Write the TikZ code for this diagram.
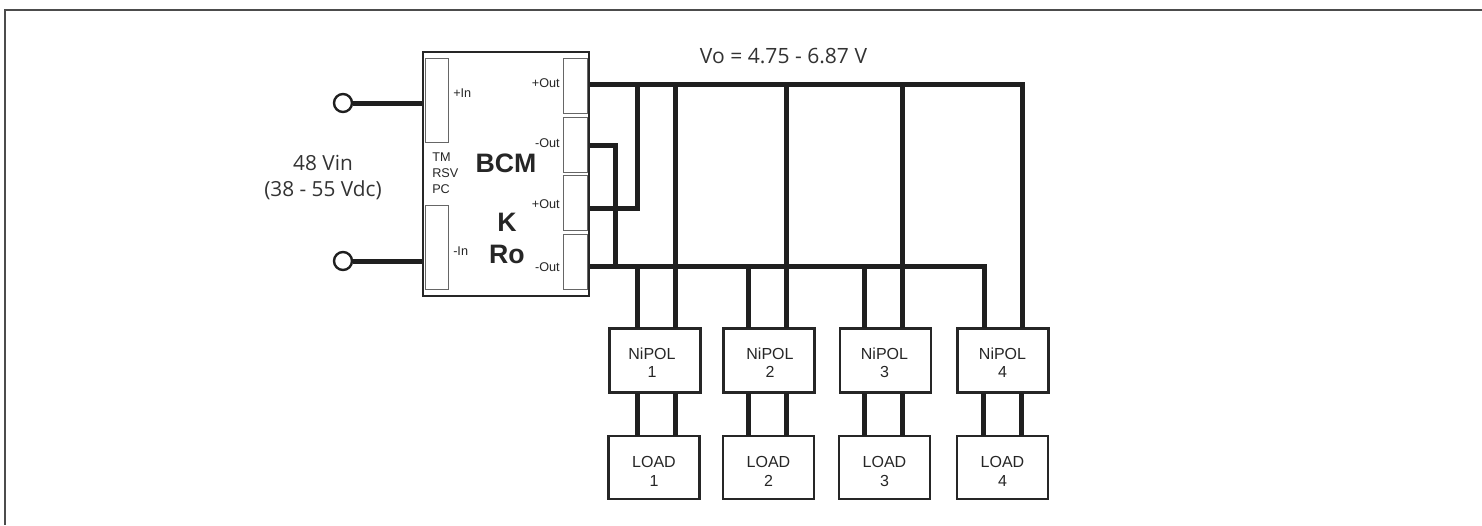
\documentclass[tikz,border=0pt]{standalone}
\usepackage{fontspec}
\setmainfont{Liberation Sans}
\newfontfamily\labelfont{Open Sans}
\usetikzlibrary{positioning}

\begin{document}
\begin{tikzpicture}[
  x=0.75pt, y=-0.75pt,
  module/.style={rectangle, draw=black!85, line width=1.8pt, fill=white, inner sep=0pt},
  boxtext/.style={align=center, text=black!85, inner sep=0pt},
  pin/.style={rectangle, draw=black!60, line width=0.6pt, inner sep=0pt, anchor=north west},
  pinlabel/.style={font=\fontsize{9.5}{11}\selectfont, text=black!85, inner sep=0pt},
  biglabel/.style={font=\bfseries\fontsize{20}{24}\selectfont, text=black!85, inner sep=0pt},
  wire/.style={draw=black!88, line width=3.75pt},
  terminal/.style={circle, draw=black!88, line width=1.8pt, fill=white, minimum size=13.5pt, inner sep=0pt}
  ]
  \useasboundingbox (0,0) rectangle (1482,525);
  \coordinate (frameA) at (1482,10);
  \coordinate (frameB) at (5,10);
  \coordinate (frameC) at (5,525);
  \draw[draw=black!70, line width=0.9pt] (frameA) -- (frameB) -- (frameC);

  % BCM module and its pins
  \node[rectangle, draw=black!85, line width=2pt, fill=white, minimum width=124.5pt, minimum height=183pt, inner sep=0pt] (bcm) at (506,174) {};
  \node[pin, minimum width=17pt, minimum height=63pt] (pinA) at (425,58) {};
  \node[pin, minimum width=17pt, minimum height=63pt] (pinB) at (425,205) {};
  \node[pin, minimum width=18pt, minimum height=41pt] (outA) at (563,58) {};
  \node[pin, minimum width=18pt, minimum height=41pt] (outB) at (563,117) {};
  \node[pin, minimum width=18pt, minimum height=41pt] (outC) at (563,175) {};
  \node[pin, minimum width=18pt, minimum height=41pt] (outD) at (563,234) {};

  \node[pinlabel, anchor=west] (inP) at (453,93) {+In};
  \node[pinlabel, anchor=west] (inN) at (453,251) {-In};
  \node[pinlabel, anchor=east] (lblA) at (560,83) {+Out};
  \node[pinlabel, anchor=east] (lblB) at (560,143) {-Out};
  \node[pinlabel, anchor=east] (lblC) at (560,204) {+Out};
  \node[pinlabel, anchor=east] (lblD) at (560,267) {-Out};
  \node[pinlabel, anchor=west] (tm) at (432,157) {TM};
  \node[pinlabel, anchor=west] (rsv) at (432,173) {RSV};
  \node[pinlabel, anchor=west] (pc) at (432,189) {PC};
  \node[biglabel] (bcmlbl) at (506,163) {BCM};
  \node[biglabel] (k) at (507,222) {K};
  \node[biglabel] (ro) at (507,254) {Ro};

  % Input side
  \node[terminal] (vp) at (343,103) {};
  \node[terminal] (vn) at (343,261) {};
  \coordinate (vpend) at (bcm.west |- vp);
  \coordinate (vnend) at (bcm.west |- vn);
  \draw[wire] (vp) -- (vpend);
  \draw[wire] (vn) -- (vnend);
  \node[font=\labelfont\fontsize{15.6}{19.5}\selectfont, text=black!80, align=center, inner sep=0pt] (vin) at (323,177.5) {48 Vin\\(38 - 55 Vdc)};
  \node[font=\labelfont\fontsize{15.8}{19}\selectfont, text=black!80, inner sep=0pt] (vo) at (783.5,56.5) {Vo = 4.75 - 6.87 V};

  % Converters and loads
  \foreach \i/\xa/\xb/\xt in {1/655/654/652,2/769/768.5/770,3/885.5/884.5/884.5,4/1003/1002.5/1002.5}{
    \node[module, minimum width=68pt, minimum height=48pt] (nipol\i) at (\xa,360.5) {};
    \node[module, minimum width=68pt, minimum height=47pt] (load\i) at (\xb,467.5) {};
    \node[boxtext, font=\fontsize{12}{13.5}\selectfont] (nipoltext\i) at (\xt,362.5) {NiPOL\\\i};
    \node[boxtext, font=\fontsize{12}{14.6}\selectfont] (loadtext\i) at (\xb,471.5) {LOAD\\\i};
  }

  % Output bus
  \coordinate (busP) at (bcm.east |- 0,84);
  \coordinate (busN) at (bcm.east |- 0,266);
  \coordinate (tapB) at (bcm.east |- 0,145);
  \coordinate (tapC) at (bcm.east |- 0,208);
  \draw[wire] (busP) -- (1022,84) -- (1022,328);
  \draw[wire] (busN) -- (984.5,266) -- (984.5,328);
  \draw[wire] (tapB) -- (615,145) -- (615,266);
  \draw[wire] (tapC) -- (637,208) -- (637,84);
  \foreach \i/\xa/\xb in {1/637/675,2/748/786,3/864/902,4/983/1021}{
    \draw[wire] (\xa,393) -- (\xa,436);
    \draw[wire] (\xb,393) -- (\xb,436);
  }
  \foreach \i/\xa in {1/637,2/748,3/864}{
    \draw[wire] (\xa,266) -- (\xa,328);
  }
  \foreach \i/\xb in {1/675,2/786,3/902}{
    \draw[wire] (\xb,84) -- (\xb,328);
  }
\end{tikzpicture}
\end{document}
